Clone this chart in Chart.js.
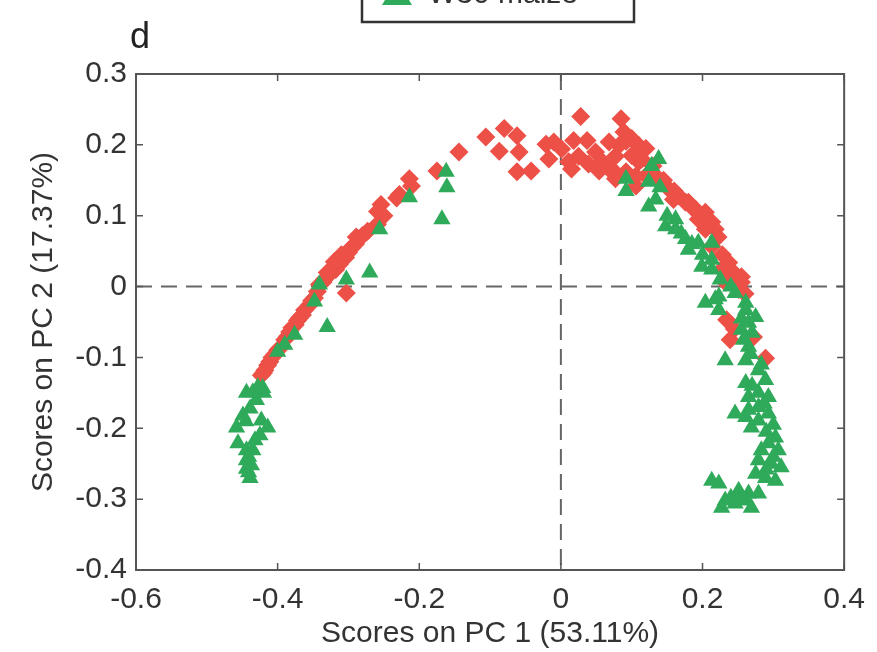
<!DOCTYPE html>
<html>
<head>
<meta charset="utf-8">
<script src="https://cdn.jsdelivr.net/npm/chart.js@4/dist/chart.umd.min.js"></script>
<style>
  html, body { margin: 0; padding: 0; background: #fff; }
  #wrap { width: 877px; height: 652px; }
</style>
</head>
<body>
<div id="wrap"><canvas id="c" width="877" height="652"></canvas></div>
<script>
// ---- data (PC1, PC2 scores) ----
const panelLabel = "d";
const legendLabel = "W30 maize";
const xTitle = "Scores on PC 1 (53.11%)";
const yTitle = "Scores on PC 2 (17.37%)";
const xTickValues = [-0.6, -0.4, -0.2, 0, 0.2, 0.4];
const xTickLabels = ["-0.6", "-0.4", "-0.2", "0", "0.2", "0.4"];
const yTickValues = [-0.4, -0.3, -0.2, -0.1, 0, 0.1, 0.2, 0.3];
const yTickLabels = ["-0.4", "-0.3", "-0.2", "-0.1", "0", "0.1", "0.2", "0.3"];

const redPC1 = [-0.144,-0.175,-0.211,-0.214,-0.228,-0.254,-0.259,-0.259,-0.273,-0.285,-0.290,-0.299,-0.304,-0.313,-0.318,-0.327,-0.334,-0.341,-0.344,-0.348,-0.355,-0.369,-0.375,-0.383,-0.390,-0.397,-0.404,-0.411,-0.418,-0.423,-0.310,-0.320,-0.289,-0.303,-0.362,-0.380,-0.414,
  -0.300,-0.295,-0.330,-0.336,-0.352,-0.365,-0.372,-0.386,-0.400,-0.408,-0.420,-0.250,-0.232,-0.280,
  -0.106,-0.080,-0.087,-0.062,-0.059,-0.062,-0.042,-0.021,-0.010,0.001,0.011,0.015,0.018,0.037,0.028,0.049,0.058,0.068,0.077,0.085,0.089,0.100,0.110,0.082,0.077,0.092,0.110,0.106,0.120,0.138,0.152,0.166,0.180,0.025,-0.017,0.068,0.114,0.072,0.106,0.054,0.039,
  0.130,0.145,0.160,0.185,0.198,0.222,0.228,0.244,0.246,0.100,0.120,0.092,0.260,0.245,
  0.176,0.190,0.204,0.213,0.218,0.204,0.213,0.237,0.227,0.255,0.232,0.251,0.255,0.234,0.239,0.272,0.289,0.194,0.159];
const redPC2 = [0.190,0.163,0.142,0.152,0.130,0.116,0.106,0.088,0.078,0.067,0.060,0.052,0.041,0.031,0.024,0.017,0.010,0.003,-0.007,-0.016,-0.026,-0.044,-0.054,-0.064,-0.075,-0.087,-0.096,-0.106,-0.118,-0.125,0.045,0.035,0.070,-0.009,-0.033,-0.058,-0.111,
  0.048,0.055,0.020,0.006,-0.020,-0.040,-0.048,-0.070,-0.090,-0.100,-0.122,0.100,0.125,0.072,
  0.211,0.223,0.191,0.213,0.190,0.162,0.163,0.201,0.204,0.194,0.176,0.166,0.206,0.206,0.240,0.190,0.177,0.166,0.184,0.237,0.218,0.209,0.199,0.199,0.152,0.162,0.176,0.142,0.156,0.152,0.138,0.128,0.119,0.184,0.180,0.204,0.180,0.166,0.156,0.163,0.173,
  0.170,0.150,0.135,0.112,0.100,0.070,0.045,0.020,0.000,0.185,0.195,0.205,-0.010,-0.060,
  0.119,0.109,0.105,0.091,0.081,0.081,0.057,0.034,0.024,0.014,0.006,-0.004,0.006,-0.047,-0.075,-0.071,-0.101,0.095,0.123];

const greenPC1 = [-0.162,-0.161,-0.168,-0.214,-0.256,-0.270,-0.303,-0.341,-0.348,-0.330,-0.376,-0.390,-0.400,-0.421,-0.435,-0.444,-0.428,-0.439,-0.449,-0.458,-0.414,-0.425,-0.456,-0.444,-0.435,-0.444,-0.444,-0.439,-0.437,-0.432,-0.423,
  -0.420,-0.430,-0.445,-0.441,-0.441,
  0.138,0.128,0.092,0.092,0.124,0.124,0.134,0.148,0.162,0.162,0.176,0.180,0.194,0.213,0.199,0.213,0.213,0.223,0.204,0.246,0.261,0.218,0.223,0.261,0.265,0.275,0.255,0.265,0.232,0.261,0.279,0.289,0.261,0.279,0.293,0.265,0.279,0.246,0.261,0.265,0.293,0.279,0.269,0.303,0.293,0.283,0.307,0.279,0.297,0.311,0.275,0.289,0.303,0.213,0.223,0.251,0.265,0.279,0.232,0.246,0.227,0.269,0.261,
  0.170,0.185,0.200,0.225,0.240,0.255,0.270,0.258,0.268,0.283,0.270,0.287,0.300,0.290,0.300,0.290,0.240,0.255,0.150,0.140];
const greenPC2 = [0.162,0.140,0.095,0.126,0.081,0.020,0.010,0.003,-0.021,-0.057,-0.068,-0.082,-0.092,-0.143,-0.149,-0.150,-0.142,-0.172,-0.182,-0.199,-0.199,-0.210,-0.221,-0.231,-0.231,-0.245,-0.257,-0.270,-0.252,-0.217,-0.189,
  -0.150,-0.160,-0.190,-0.240,-0.262,
  0.180,0.170,0.152,0.135,0.148,0.113,0.123,0.085,0.095,0.081,0.067,0.052,0.062,0.062,0.028,0.024,0.038,-0.014,-0.023,-0.009,-0.023,-0.018,-0.033,-0.033,-0.051,-0.043,-0.061,-0.085,-0.104,-0.104,-0.118,-0.132,-0.136,-0.150,-0.156,-0.156,-0.170,-0.179,-0.184,-0.174,-0.179,-0.189,-0.199,-0.213,-0.221,-0.231,-0.231,-0.245,-0.250,-0.255,-0.264,-0.270,-0.274,-0.274,-0.278,-0.288,-0.292,-0.292,-0.302,-0.306,-0.312,-0.312,-0.302,
  0.075,0.060,0.045,0.010,0.000,-0.045,-0.065,-0.075,-0.095,-0.110,-0.140,-0.165,-0.195,-0.205,-0.240,-0.258,-0.298,-0.296,0.100,0.140];

const toPoints = (xs, ys) => xs.map((x, i) => ({ x: x, y: ys[i] }));

const FONT = "'Liberation Sans', Arial, Helvetica, sans-serif";
const TEXT = "#333";

const decor = {
  id: "decor",
  beforeDatasetsDraw(chart) {
    const { ctx, chartArea: a, scales: { x, y } } = chart;
    ctx.save();
    ctx.strokeStyle = "#666";
    ctx.lineWidth = 2;
    ctx.setLineDash([16, 9]);
    const x0 = x.getPixelForValue(0), y0 = y.getPixelForValue(0);
    ctx.beginPath(); ctx.moveTo(x0, a.top); ctx.lineTo(x0, a.bottom); ctx.stroke();
    ctx.beginPath(); ctx.moveTo(a.left, y0); ctx.lineTo(a.right, y0); ctx.stroke();
    ctx.restore();
  },
  afterDraw(chart) {
    const { ctx, chartArea: a, scales: { x, y } } = chart;
    ctx.save();
    // frame
    ctx.strokeStyle = "#555";
    ctx.lineWidth = 2;
    ctx.strokeRect(a.left, a.top, a.right - a.left, a.bottom - a.top);
    // inward ticks
    ctx.lineWidth = 1.5;
    const tl = 7;
    xTickValues.forEach(v => {
      const px = x.getPixelForValue(v);
      ctx.beginPath();
      ctx.moveTo(px, a.bottom); ctx.lineTo(px, a.bottom - tl);
      ctx.moveTo(px, a.top); ctx.lineTo(px, a.top + tl);
      ctx.stroke();
    });
    yTickValues.forEach(v => {
      const py = y.getPixelForValue(v);
      ctx.beginPath();
      ctx.moveTo(a.left, py); ctx.lineTo(a.left + tl, py);
      ctx.moveTo(a.right, py); ctx.lineTo(a.right - tl, py);
      ctx.stroke();
    });
    // panel letter
    ctx.fillStyle = "#222";
    ctx.font = "36px " + FONT;
    ctx.textBaseline = "alphabetic";
    ctx.textAlign = "left";
    ctx.fillText(panelLabel, 130, 48);
    // legend box (cut off at the top edge)
    ctx.fillStyle = "#fff";
    ctx.fillRect(362, -30, 272, 52);
    ctx.strokeStyle = "#333";
    ctx.lineWidth = 2.5;
    ctx.strokeRect(362, -30, 272, 52);
    ctx.fillStyle = "#2eaa5a";
    ctx.beginPath();
    ctx.moveTo(382, 5); ctx.lineTo(412, 5); ctx.lineTo(397, -20); ctx.closePath(); ctx.fill();
    ctx.fillStyle = "#333";
    ctx.font = "30px " + FONT;
    ctx.fillText(legendLabel, 428, 3);
    ctx.restore();
  }
};

new Chart(document.getElementById("c"), {
  type: "scatter",
  data: {
    datasets: [
      {
        label: legendLabel,
        data: toPoints(greenPC1, greenPC2),
        pointStyle: "triangle",
        pointRadius: 10,
        pointHoverRadius: 10,
        backgroundColor: "#2eaa5a",
        borderColor: "#2eaa5a",
        borderWidth: 0
      },
      {
        label: "other",
        data: toPoints(redPC1, redPC2),
        pointStyle: "rectRot",
        pointRadius: 9.5,
        pointHoverRadius: 9.5,
        backgroundColor: "#ec5046",
        borderColor: "#ec5046",
        borderWidth: 0
      }
    ]
  },
  options: {
    responsive: false,
    animation: false,
    events: [],
    layout: { padding: { top: 74, right: 31, left: 0, bottom: 0 } },
    plugins: { legend: { display: false }, tooltip: { enabled: false } },
    scales: {
      x: {
        type: "linear",
        min: -0.6, max: 0.4,
        afterBuildTicks: s => { s.ticks = xTickValues.map(v => ({ value: v })); },
        afterFit: s => { s.height = 82; },
        grid: { display: false, drawTicks: false },
        border: { display: false },
        ticks: {
          autoSkip: false, maxRotation: 0, padding: 12,
          color: TEXT, font: { family: FONT, size: 30 },
          callback: (v, i) => xTickLabels[i]
        },
        title: { display: true, text: xTitle, color: TEXT, font: { family: FONT, size: 30 }, padding: { top: 0, bottom: 0 } }
      },
      y: {
        type: "linear",
        min: -0.4, max: 0.3,
        afterBuildTicks: s => { s.ticks = yTickValues.map(v => ({ value: v })); },
        afterFit: s => { s.width = 136; },
        grid: { display: false, drawTicks: false },
        border: { display: false },
        ticks: {
          autoSkip: false, padding: 9,
          color: TEXT, font: { family: FONT, size: 30 },
          callback: (v, i) => yTickLabels[i]
        },
        title: { display: true, text: yTitle, color: TEXT, font: { family: FONT, size: 30 }, padding: { top: 26, bottom: 0 } }
      }
    }
  },
  plugins: [decor]
});
</script>
</body>
</html>
